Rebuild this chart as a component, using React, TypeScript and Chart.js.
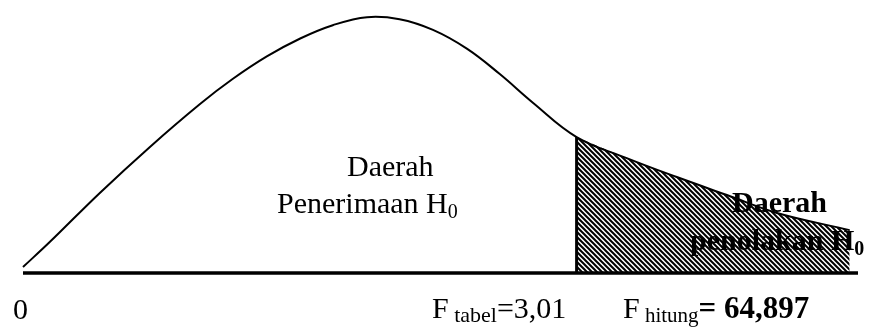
import React, { useEffect, useRef } from "react";
import { Chart, registerables } from "chart.js";

Chart.register(...registerables);

// Curve of the F distribution (schematic) (x: 0..100, y: 0..100)
const curveX = [0, 3.2, 9.2, 15.2, 21.2, 25.1, 29.2, 33.2, 37.1, 41.2, 45.1, 49.1, 53.2, 57.1, 61.1, 66.3, 72.3, 78.3, 84.3, 90.3, 99.0];
const curveY = [2.3, 11.9, 30.8, 48.5, 65.0, 74.6, 83.3, 90.2, 95.3, 98.4, 97.6, 93.5, 86.2, 76.5, 65.4, 52.3, 44.2, 36.9, 30.0, 23.1, 16.5];
const criticalX = 66.3; // F tabel position
const axisStart = 0;
const axisEnd = 100;

const acceptLabel = ["Daerah", "Penerimaan H", "0"];
const rejectLabel = ["Daerah", "penolakan H", "0"];
const zeroLabel = "0";
const fTabelLabel = ["F", " tabel", "=3,01"];
const fHitungLabel = ["F", " hitung", "= 64,897"];

const FONT = '"Liberation Serif", "Times New Roman", serif';

type Run = { t: string; size: number; dy?: number; bold?: boolean };

function drawRuns(ctx: CanvasRenderingContext2D, x: number, y: number, runs: Run[]) {
  let cx = x;
  for (const r of runs) {
    ctx.font = `${r.bold ? "bold " : ""}${r.size}px ${FONT}`;
    ctx.fillText(r.t, cx, y + (r.dy || 0));
    cx += ctx.measureText(r.t).width;
  }
}

function makeHatch(ctx: CanvasRenderingContext2D) {
  const s = 5;
  const c = document.createElement("canvas");
  c.width = s;
  c.height = s;
  const g = c.getContext("2d")!;
  g.fillStyle = "#fff";
  g.fillRect(0, 0, s, s);
  g.strokeStyle = "#000";
  g.lineWidth = 2;
  g.beginPath();
  for (const k of [-s, 0, s]) {
    g.moveTo(k - 1, -1);
    g.lineTo(k + s + 1, s + 1);
  }
  g.stroke();
  return ctx.createPattern(c, "repeat")!;
}

const textPlugin = {
  id: "texts",
  afterDraw(chart: any) {
    const ctx: CanvasRenderingContext2D = chart.ctx;
    ctx.save();
    ctx.fillStyle = "#000";
    ctx.textBaseline = "alphabetic";
    ctx.textAlign = "left";
    // acceptance region
    drawRuns(ctx, 347, 176, [{ t: acceptLabel[0], size: 30 }]);
    drawRuns(ctx, 277, 213, [
      { t: acceptLabel[1], size: 30 },
      { t: acceptLabel[2], size: 20, dy: 5 },
    ]);
    // rejection region
    drawRuns(ctx, 732, 212, [{ t: rejectLabel[0], size: 30, bold: true }]);
    drawRuns(ctx, 690, 250, [
      { t: rejectLabel[1], size: 30, bold: true },
      { t: rejectLabel[2], size: 20, dy: 5, bold: true },
    ]);
    // bottom labels
    drawRuns(ctx, 13, 319, [{ t: zeroLabel, size: 30 }]);
    drawRuns(ctx, 432, 318, [
      { t: fTabelLabel[0], size: 30 },
      { t: fTabelLabel[1], size: 22, dy: 4 },
      { t: fTabelLabel[2], size: 30 },
    ]);
    drawRuns(ctx, 623, 318, [
      { t: fHitungLabel[0], size: 30 },
      { t: fHitungLabel[1], size: 21, dy: 4 },
      { t: fHitungLabel[2], size: 31, bold: true },
    ]);
    ctx.restore();
  },
};

export default function App() {
  const ref = useRef<HTMLCanvasElement>(null);
  useEffect(() => {
    const canvas = ref.current!;
    const ctx = canvas.getContext("2d")!;
    const hatch = makeHatch(ctx);
    const curve = curveX.map((x, i) => ({ x, y: curveY[i] }));
    const tail = curve.filter((p) => p.x >= criticalX);
    const critY = curveY[curveX.indexOf(criticalX)];
    const chart = new Chart(ctx, {
      type: "line",
      data: {
        datasets: [
          {
            data: tail,
            borderWidth: 0,
            borderColor: "rgba(0,0,0,0)",
            backgroundColor: hatch as any,
            fill: "origin",
            pointRadius: 0,
            tension: 0.4,
            order: 3,
          },
          {
            data: curve,
            borderColor: "#000",
            borderWidth: 2,
            fill: false,
            pointRadius: 0,
            tension: 0.4,
            order: 1,
          },
          {
            data: [
              { x: criticalX, y: 0 },
              { x: criticalX, y: critY },
            ],
            borderColor: "#000",
            borderWidth: 3,
            fill: false,
            pointRadius: 0,
            order: 0,
          },
          {
            data: [
              { x: axisStart, y: 0 },
              { x: axisEnd, y: 0 },
            ],
            borderColor: "#000",
            borderWidth: 3.5,
            fill: false,
            pointRadius: 0,
            order: 0,
          },
        ],
      },
      options: {
        animation: false,
        responsive: false,
        clip: false as any,
        layout: { padding: { left: 23, right: 13, top: 13, bottom: 54 } },
        plugins: { legend: { display: false }, tooltip: { enabled: false } },
        scales: {
          x: { type: "linear", min: 0, max: 100, display: false },
          y: { type: "linear", min: 0, max: 100, display: false },
        },
      },
      plugins: [textPlugin],
    });
    return () => chart.destroy();
  }, []);
  return (
    <div style={{ position: "absolute", left: 0, top: 0, width: 871, height: 327, background: "#fff" }}>
      <canvas ref={ref} width={871} height={327} />
    </div>
  );
}
